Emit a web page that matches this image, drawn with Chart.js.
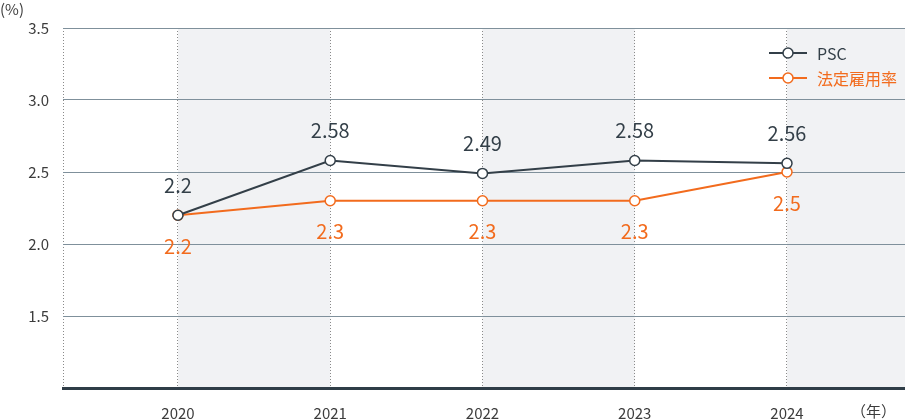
<!DOCTYPE html>
<html>
<head>
<meta charset="utf-8">
<script src="https://cdn.jsdelivr.net/npm/chart.js@4"></script>
<style>
  html, body { margin: 0; padding: 0; background: #fff; }
  #wrap { width: 905px; height: 420px; position: relative; }
</style>
</head>
<body>
<div id="wrap"><canvas id="grafico"></canvas></div>
<script>
const years = [2020, 2021, 2022, 2023, 2024];
const psc = [2.2, 2.58, 2.49, 2.58, 2.56];
const legal = [2.2, 2.3, 2.3, 2.3, 2.5];
const pscLabels = ['2.2', '2.58', '2.49', '2.58', '2.56'];
const legalLabels = ['2.2', '2.3', '2.3', '2.3', '2.5'];
const yTicks = [1.5, 2.0, 2.5, 3.0, 3.5];

const FONT = '"Noto Sans CJK JP", "Noto Sans", sans-serif';
const DARK = '#333f48';
const ORANGE = '#f26b1d';

// shaded columns + extra texts + value labels + legend
const decor = {
  id: 'decor',
  beforeDraw(chart) {
    const ctx = chart.ctx, x = chart.scales.x, a = chart.chartArea;
    ctx.save();
    ctx.fillStyle = '#f1f2f4';
    for (let i = 0; i < years.length; i += 2) {
      const x0 = x.getPixelForValue(years[i]);
      const x1 = i + 1 < years.length ? x.getPixelForValue(years[i + 1]) : a.right;
      ctx.fillRect(x0, a.top, x1 - x0, a.bottom - a.top);
    }
    ctx.restore();
  },
  afterDatasetsDraw(chart) {
    const ctx = chart.ctx;
    ctx.save();
    ctx.font = '20px ' + FONT;
    ctx.textAlign = 'center';
    ctx.textBaseline = 'middle';
    chart.getDatasetMeta(0).data.forEach((p, i) => {
      ctx.fillStyle = DARK;
      ctx.fillText(pscLabels[i], p.x, p.y - 30);
    });
    chart.getDatasetMeta(1).data.forEach((p, i) => {
      ctx.fillStyle = ORANGE;
      ctx.fillText(legalLabels[i], p.x, p.y + 31);
    });
    ctx.restore();
  },
  afterDraw(chart) {
    const ctx = chart.ctx;
    ctx.save();
    ctx.font = '15px ' + FONT;
    ctx.fillStyle = '#3c3c3c';
    ctx.textBaseline = 'middle';
    ctx.textAlign = 'left';
    ctx.fillText('(%)', 0, 9);
    ctx.fillText('（年）', 851, 411);

    // legend
    ctx.font = '16px ' + FONT;
    chart.data.datasets.forEach((ds, i) => {
      const y = 53 + i * 25;
      ctx.strokeStyle = ds.borderColor;
      ctx.lineWidth = 2;
      ctx.beginPath();
      ctx.moveTo(769, y);
      ctx.lineTo(807, y);
      ctx.stroke();
      ctx.beginPath();
      ctx.arc(788, y, 5, 0, Math.PI * 2);
      ctx.fillStyle = '#fff';
      ctx.fill();
      ctx.lineWidth = 1.5;
      ctx.stroke();
      ctx.fillStyle = ds.borderColor;
      ctx.fillText(ds.label, 817, y + 1);
    });
    ctx.restore();
  }
};

new Chart(document.getElementById('grafico'), {
  type: 'line',
  data: {
    datasets: [{
      label: 'PSC',
      data: years.map((y, i) => ({ x: y, y: psc[i] })),
      borderColor: DARK,
      borderWidth: 2,
      pointRadius: 5,
      pointBorderWidth: 1.5,
      pointBackgroundColor: '#fff',
      pointBorderColor: DARK,
      tension: 0
    }, {
      label: '法定雇用率',
      data: years.map((y, i) => ({ x: y, y: legal[i] })),
      borderColor: ORANGE,
      borderWidth: 2,
      pointRadius: 5,
      pointBorderWidth: 1.5,
      pointBackgroundColor: '#fff',
      pointBorderColor: ORANGE,
      tension: 0
    }]
  },
  options: {
    responsive: true,
    maintainAspectRatio: false,
    animation: false,
    layout: { autoPadding: false, padding: { top: 28, left: 0, right: 0, bottom: 0 } },
    plugins: { legend: { display: false }, tooltip: { enabled: false } },
    scales: {
      x: {
        type: 'linear',
        min: 2019.245,
        max: 2024.775,
        afterBuildTicks: axis => { axis.ticks = [axis.min].concat(years).map(v => ({ value: v })); },
        afterFit: axis => { axis.height = 32; axis.paddingLeft = 0; axis.paddingRight = 0; },
        grid: { color: '#8a8a8a', lineWidth: 1, drawTicks: false },
        border: { display: true, color: '#2f3d47', width: 3, dash: [1, 2] },
        ticks: {
          padding: 16,
          color: '#3c3c3c',
          font: { family: FONT, size: 15 },
          callback: v => Number.isInteger(v) ? String(v) : ''
        }
      },
      y: {
        min: 1.0,
        max: 3.5,
        afterBuildTicks: axis => { axis.ticks = [1.0].concat(yTicks).map(v => ({ value: v })); },
        afterFit: axis => { axis.width = 63; },
        grid: { color: '#7f909b', lineWidth: 1, drawTicks: false },
        border: { display: false },
        ticks: {
          padding: 14,
          color: '#3c3c3c',
          font: { family: FONT, size: 15 },
          callback: v => v === 1 ? '' : v.toFixed(1)
        }
      }
    }
  },
  plugins: [decor]
});
</script>
</body>
</html>
